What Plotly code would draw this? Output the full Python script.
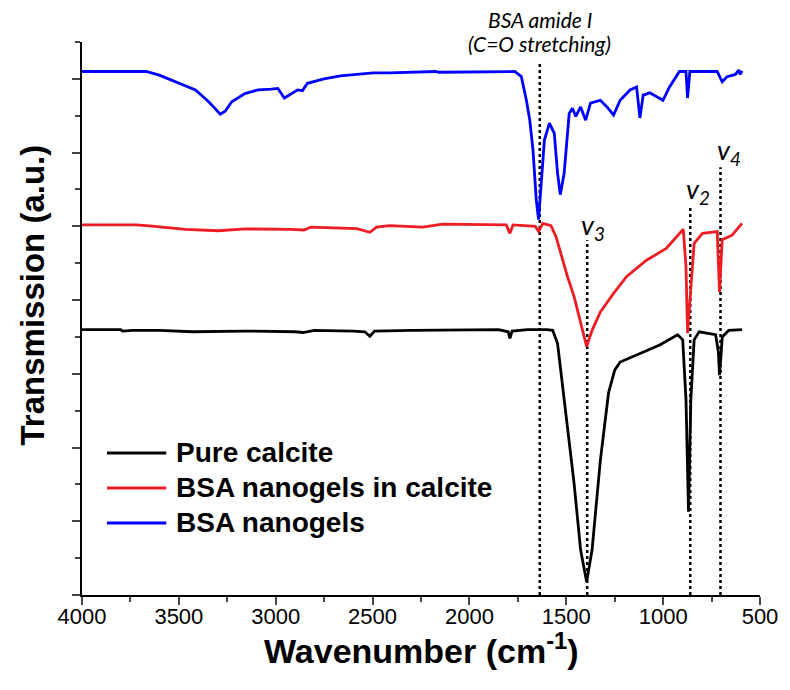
import plotly.graph_objects as go

# ---------------- data ----------------
calcite_wn = [4000, 3800, 3790, 3740, 3600, 3430, 3160, 3000, 2900, 2860, 2800, 2600, 2540, 2514, 2490,
              2300, 2000, 1850, 1800, 1791, 1780, 1700, 1600, 1570, 1545, 1511, 1460, 1426, 1395, 1367,
              1324, 1282, 1250, 1222, 1120, 1018, 925, 899, 882, 869, 857, 840, 814, 760, 729, 715,
              709, 700, 695, 661, 593]
calcite_t = [3.60, 3.60, 3.58, 3.59, 3.59, 3.57, 3.58, 3.58, 3.57, 3.56, 3.59, 3.58, 3.57, 3.51, 3.58,
             3.59, 3.60, 3.60, 3.57, 3.48, 3.58, 3.60, 3.60, 3.59, 3.41, 2.65, 1.52, 0.61, 0.18, 0.61,
             1.83, 2.74, 3.05, 3.16, 3.28, 3.39, 3.53, 3.46, 2.65, 1.13, 2.65, 3.46, 3.57, 3.55, 3.53, 3.30,
             2.98, 3.30, 3.50, 3.59, 3.60]

mix_wn = [4000, 3720, 3652, 3550, 3466, 3295, 3159, 2921, 2853, 2819, 2581, 2514, 2480, 2412, 2241,
          2139, 1969, 1810, 1791, 1775, 1660, 1643, 1621, 1579, 1553, 1528, 1494, 1460, 1426, 1395,
          1367, 1324, 1256, 1188, 1086, 984, 896, 882, 874, 857, 840, 797, 721, 709, 695, 644, 593]
mix_t = [5.02, 5.02, 5.005, 4.98, 4.96, 4.94, 4.965, 4.96, 4.95, 4.99, 4.97, 4.92, 4.99, 5.01, 4.99,
         5.03, 5.02, 5.02, 4.905, 5.02, 5.00, 4.93, 5.04, 5.01, 4.86, 4.63, 4.32, 4.05, 3.685, 3.37,
         3.59, 3.84, 4.09, 4.32, 4.54, 4.70, 4.96, 4.45, 3.55, 4.23, 4.77, 4.905, 4.93, 4.11, 4.82, 4.88, 5.04]

bsa_wn = [4000, 3669, 3601, 3516, 3414, 3346, 3286, 3261, 3227, 3159, 3091, 3023, 2989, 2955, 2921,
          2887, 2862, 2836, 2751, 2666, 2496, 2411, 2174, 2160, 1766, 1732, 1706, 1689, 1672, 1655,
          1643, 1630, 1613, 1587, 1562, 1545, 1531, 1511, 1485, 1468, 1451, 1426, 1400, 1375, 1324,
          1290, 1256, 1222, 1171, 1137, 1120, 1103, 1069, 1001, 967, 916, 882, 874, 862, 721, 695,
          670, 627, 610, 602, 593]
bsa_t = [7.10, 7.10, 7.05, 6.96, 6.85, 6.69, 6.52, 6.56, 6.69, 6.80, 6.85, 6.86, 6.87, 6.74, 6.80,
         6.85, 6.84, 6.94, 7.00, 7.04, 7.08, 7.08, 7.10, 7.09, 7.10, 7.03, 6.71, 6.45, 6.04, 5.36,
         5.09, 5.54, 6.17, 6.40, 6.26, 5.72, 5.43, 5.72, 6.53, 6.60, 6.49, 6.62, 6.44, 6.67, 6.71,
         6.62, 6.51, 6.71, 6.85, 6.89, 6.47, 6.78, 6.81, 6.71, 6.89, 7.10, 7.10, 6.74, 7.10, 7.10, 6.96,
         7.03, 7.06, 7.12, 7.06, 7.11]

series_names = ["Pure calcite", "BSA nanogels in calcite", "BSA nanogels"]
series_colors = ["#000000", "#ee1c25", "#0000ff"]

# marker lines (wavenumber, top of dotted line)
marker_wn = [1637, 1392, 860, 704]
marker_top = [7.22, 4.81, 5.29, 5.80]
band_labels = ["<i>v<sub>3</sub></i>", "<i>v<sub>2</sub></i>", "<i>v<sub>4</sub></i>"]
band_wn = [1360, 820, 662]
band_y = [5.0, 5.49, 6.01]

x_ticks = [4000, 3500, 3000, 2500, 2000, 1500, 1000, 500]

# ---------------- figure ----------------
fig = go.Figure()

for wn, top in zip(marker_wn, marker_top):
    fig.add_trace(go.Scatter(x=[wn, wn], y=[0, top], mode="lines",
                             line=dict(color="black", width=2.5, dash="dot"),
                             showlegend=False, hoverinfo="skip"))

for xs, ys, name, col in zip([calcite_wn, mix_wn, bsa_wn], [calcite_t, mix_t, bsa_t],
                             series_names, series_colors):
    fig.add_trace(go.Scatter(x=xs, y=ys, mode="lines", name=name,
                             line=dict(color=col, width=2.8), showlegend=False))

regular = "Liberation Sans, Arial, sans-serif"
humanist = "Lato, Open Sans, sans-serif"

fig.update_layout(
    width=790, height=690,
    margin=dict(l=81.7, r=21.7, t=42, b=95),
    paper_bgcolor="white", plot_bgcolor="white",
    xaxis=dict(range=[4000, 500], tickvals=x_ticks, ticks="outside", ticklen=8, tickwidth=2,
               ticklabelstandoff=-7,
               showline=True, linewidth=2, linecolor="black", showgrid=False, zeroline=False,
               minor=dict(dtick=250, tick0=500, ticks="outside", ticklen=5, tickwidth=2, showgrid=False),
               tickfont=dict(family=regular, size=22, color="black")),
    yaxis=dict(range=[0, 7.5], dtick=1, tick0=0, ticks="outside", ticklen=8, tickwidth=2,
               showline=True, linewidth=2, linecolor="black", showgrid=False, zeroline=False,
               showticklabels=False,
               minor=dict(dtick=0.5, tick0=0, ticks="outside", ticklen=5, tickwidth=2, showgrid=False)),
)

ann = []
ann.append(dict(text="<b>Wavenumber (cm<sup>-1</sup>)</b>", x=0.5, y=-0.097, xref="paper", yref="paper",
                showarrow=False, xanchor="center", yanchor="middle",
                font=dict(family=regular, size=34, color="black")))
ann.append(dict(text="<b>Transmission (a.u.)</b>", x=-0.073, y=0.5425, xref="paper", yref="paper",
                showarrow=False, textangle=-90, xanchor="center", yanchor="middle",
                font=dict(family=regular, size=33, color="black")))

for lab, wx, wy in zip(band_labels, band_wn, band_y):
    ann.append(dict(text=lab, x=wx, y=wy, xref="x", yref="y", showarrow=False,
                    xanchor="center", yanchor="middle",
                    font=dict(family=humanist, size=27, color="black")))

ann.append(dict(text="<i>BSA amide I</i>", x=marker_wn[0], y=1.0398, xref="x", yref="paper",
                showarrow=False, xanchor="center", yanchor="middle",
                font=dict(family=humanist, size=21, color="black")))
ann.append(dict(text="<i>(C=O stretching)</i>", x=marker_wn[0], y=0.9964, xref="x", yref="paper",
                showarrow=False, xanchor="center", yanchor="middle",
                font=dict(family=humanist, size=21, color="black")))

# legend (drawn manually to match the long line samples)
leg_y = [0.2568, 0.1935, 0.1302]
shapes = []
for name, col, ly in zip(series_names, series_colors, leg_y):
    shapes.append(dict(type="line", xref="paper", yref="paper", x0=0.0368, x1=0.1243, y0=ly, y1=ly,
                       line=dict(color=col, width=3)))
    ann.append(dict(text="<b>" + name + "</b>", x=0.1359, y=ly, xref="paper", yref="paper",
                    showarrow=False, xanchor="left", yanchor="middle",
                    font=dict(family=regular, size=28, color="black")))

fig.update_layout(annotations=ann, shapes=shapes)
fig.write_html("out.html")
